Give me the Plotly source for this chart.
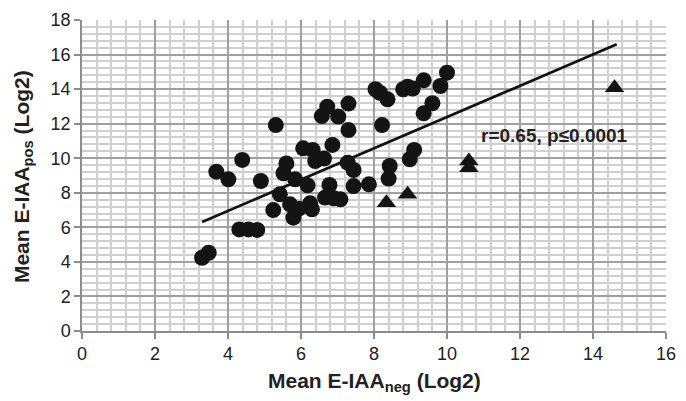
import plotly.graph_objects as go

# Circles: patients (Mean E-IAA neg vs pos, Log2)
circle_x = [3.29, 3.47, 3.68, 4.01, 4.39, 4.31, 4.56, 4.80, 4.90, 5.31,
            5.24, 5.42, 5.60, 5.52, 5.70, 5.84, 5.79, 5.94, 6.06, 6.18,
            6.25, 6.30, 6.32, 6.39, 6.63, 6.57, 6.72, 6.66, 6.78, 6.86,
            6.90, 7.02, 7.08, 7.30, 7.30, 7.28, 7.44, 7.44, 7.86, 8.04,
            8.16, 8.37, 8.22, 8.40, 8.43, 8.80, 8.92, 9.06, 9.36, 9.36,
            9.60, 9.82, 10.00, 8.98, 9.10]
circle_y = [4.24, 4.53, 9.22, 8.78, 9.90, 5.88, 5.88, 5.85, 8.68, 11.92,
            7.00, 7.91, 9.70, 9.13, 7.33, 8.78, 6.56, 7.08, 10.57, 8.43,
            7.39, 7.04, 10.48, 9.84, 9.98, 12.44, 12.98, 7.72, 8.45, 10.77,
            7.68, 12.41, 7.62, 13.16, 11.63, 9.74, 9.32, 8.39, 8.49, 13.99,
            13.79, 13.41, 11.92, 8.82, 9.55, 13.99, 14.14, 14.03, 14.51, 12.60,
            13.18, 14.18, 14.95, 9.94, 10.48]

# Triangles
tri_x = [8.34, 8.92, 10.60, 10.60, 14.59]
tri_y = [7.43, 7.91, 9.84, 9.45, 14.08]

# Regression line endpoints
fit_x = [3.29, 14.65]
fit_y = [6.31, 16.59]

annot_text = "r=0.65, p\u22640.0001"
x_title = "Mean E-IAA<sub>neg</sub> (Log2)"
y_title = "Mean E-IAA<sub>pos</sub> (Log2)"

x_ticks = [0, 2, 4, 6, 8, 10, 12, 14, 16]
y_ticks = [0, 2, 4, 6, 8, 10, 12, 14, 16, 18]

FONT = "Liberation Sans, Arial, Helvetica, sans-serif"

fig = go.Figure()
fig.add_trace(go.Scatter(x=fit_x, y=fit_y, mode="lines",
                         line=dict(color="#111111", width=2.7),
                         showlegend=False, hoverinfo="skip"))
fig.add_trace(go.Scatter(x=circle_x, y=circle_y, mode="markers",
                         marker=dict(symbol="circle", size=16, color="#141414",
                                     line=dict(width=0)),
                         showlegend=False))
fig.add_trace(go.Scatter(x=tri_x, y=tri_y, mode="markers",
                         marker=dict(symbol="triangle-up", size=17, color="#141414",
                                     line=dict(width=0)),
                         showlegend=False))

fig.add_annotation(x=12.95, y=11.3, text="<b>" + annot_text + "</b>",
                   showarrow=False, font=dict(family=FONT, size=19, color="#222"))

# Axis titles as paper annotations for precise placement
fig.add_annotation(xref="paper", yref="paper", x=0.501, y=-0.163,
                   xanchor="center", yanchor="middle", showarrow=False,
                   text="<b>" + x_title + "</b>",
                   font=dict(family=FONT, size=21, color="#222"))
fig.add_annotation(xref="paper", yref="paper", x=-0.101, y=0.495,
                   xanchor="center", yanchor="middle", showarrow=False,
                   textangle=-90,
                   text="<b>" + y_title + "</b>",
                   font=dict(family=FONT, size=21, color="#222"))

axis_common = dict(
    showline=True, linecolor="#8c8c8c", linewidth=1.5,
    ticks="outside", ticklen=6, tickcolor="#8c8c8c", tickwidth=1.5,
    showgrid=True, gridcolor="#a0a0a0", gridwidth=1.5,
    zeroline=False, automargin=False,
    tickfont=dict(family=FONT, size=18, color="#222"),
    minor=dict(dtick=0.4, showgrid=True, gridcolor="#d0d0d0", gridwidth=1.5, ticks=""),
)

fig.update_xaxes(range=[0, 16], tickvals=x_ticks, ticktext=[str(v) for v in x_ticks],
                 **axis_common)
fig.update_yaxes(range=[0, 18], tickvals=y_ticks, ticktext=[str(v) for v in y_ticks],
                 **axis_common)

# page body has an 8px margin; size/margins compensate so the plot area lands
# at the same page position as in the reference
fig.update_layout(width=678, height=393,
                  margin=dict(l=74, r=20, t=12, b=70),
                  plot_bgcolor="white", paper_bgcolor="white")

fig.write_html("out.html")
